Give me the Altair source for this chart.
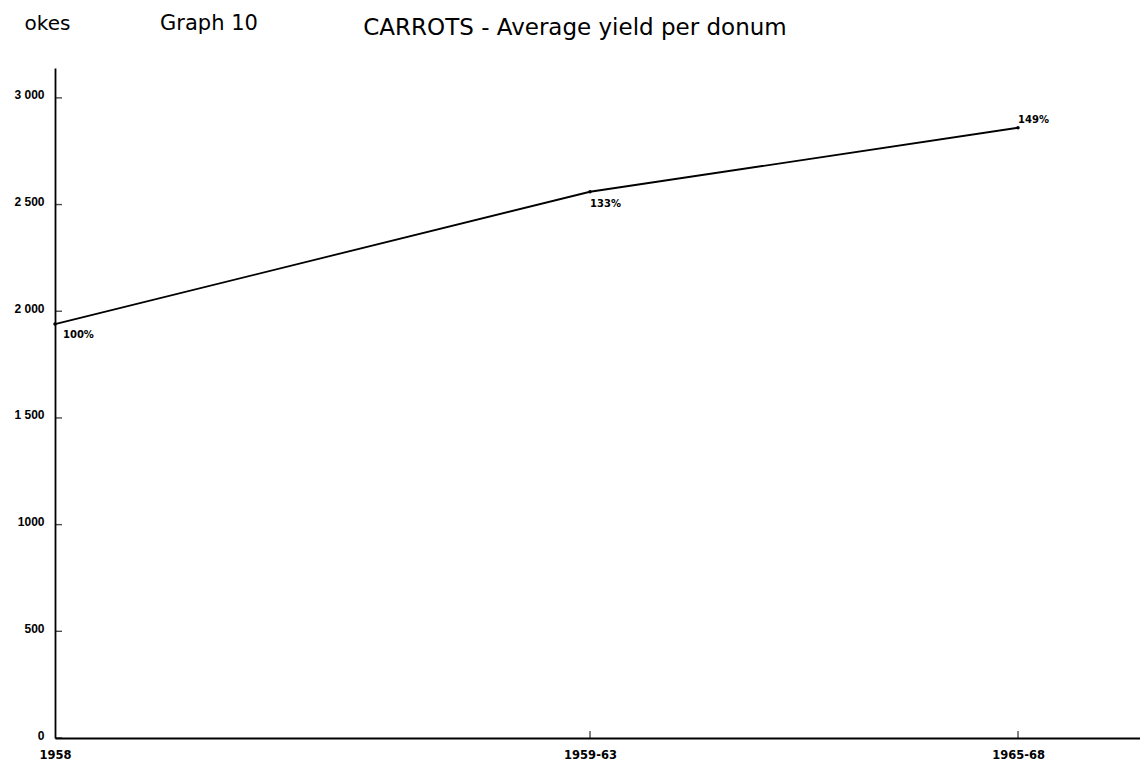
import altair as alt
import pandas as pd

# data
periods = ["1958", "1959-63", "1965-68"]
period_pos = [0, 5, 9]          # spacing along the time axis
yield_okes = [1940, 2560, 2860]
pct_labels = ["100%", "133%", "149%"]

y_tick_values = [0, 500, 1000, 1500, 2000, 2500, 3000]
y_tick_labels = ["0", "500", "1000", "1 500", "2 000", "2 500", "3 000"]

df = pd.DataFrame({"period": periods, "pos": period_pos, "okes": yield_okes, "pct": pct_labels})
yt = pd.DataFrame({"v": y_tick_values, "lab": y_tick_labels})
xt = pd.DataFrame({"pos": period_pos[1:]})

W, H = 1085, 670
FONT = "DejaVu Sans"

ylabel_expr = "{" + ",".join(f"'{v}':'{l}'" for v, l in zip(y_tick_values, y_tick_labels)) + "}[datum.value]"
xlabel_expr = "{" + ",".join(f"'{p}':'{l}'" for p, l in zip(period_pos, periods)) + "}[datum.value]"

xs = alt.Scale(domain=[0, 10.14], nice=False, zero=False)
ys = alt.Scale(domain=[0, 3140], nice=False)

x_axis = alt.Axis(values=period_pos, labelExpr=xlabel_expr, ticks=False, grid=False,
                  domainColor="black", domainWidth=1.8, labelFont=FONT, labelFontSize=11.5,
                  labelFontWeight="bold", labelColor="black", labelPadding=11, title=None,
                  labelFlush=False)
y_axis = alt.Axis(values=y_tick_values, labelExpr=ylabel_expr, ticks=False, grid=False,
                  domainColor="black", domainWidth=1.8, labelFont="Liberation Sans",
                  labelFontSize=12, labelFontWeight="bold", labelColor="black",
                  labelPadding=11, labelOffset=-3,
                  title="okes", titleAngle=0, titleX=-8, titleY=-45, titleAlign="center",
                  titleBaseline="middle", titleFont=FONT, titleFontSize=20,
                  titleFontWeight="normal", titleColor="black")

base = alt.Chart(df)

line = base.mark_line(color="black", strokeWidth=1.8).encode(
    x=alt.X("pos:Q", scale=xs, axis=x_axis),
    y=alt.Y("okes:Q", scale=ys, axis=y_axis),
)
pts = base.mark_point(filled=True, color="black", size=12, opacity=1).encode(
    x=alt.X("pos:Q", scale=xs), y=alt.Y("okes:Q", scale=ys))

def pct_layer(i, dx, dy, align):
    return base.transform_filter(alt.datum.period == periods[i]).mark_text(
        font=FONT, fontSize=10, fontWeight="bold", color="black", align=align,
        baseline="middle", dx=dx, dy=dy).encode(
        x=alt.X("pos:Q", scale=xs), y=alt.Y("okes:Q", scale=ys), text="pct:N")

ytick_rules = alt.Chart(yt).mark_tick(color="black", thickness=1.4, size=7,
                                      orient="horizontal", xOffset=3.5).encode(
    y=alt.Y("v:Q", scale=ys), x=alt.value(0))
xtick_rules = alt.Chart(xt).mark_tick(color="black", thickness=1.4, size=7,
                                      orient="vertical", yOffset=-3.5).encode(
    x=alt.X("pos:Q", scale=xs), y=alt.value(H))

graph_no = alt.Chart(pd.DataFrame({"t": ["Graph 10"]})).mark_text(
    font=FONT, fontSize=21, color="black", align="center", baseline="middle").encode(
    x=alt.value(154), y=alt.value(-44), text="t:N")
title_txt = alt.Chart(pd.DataFrame({"t": ["CARROTS - Average yield per donum"]})).mark_text(
    font=FONT, fontSize=23, color="black", align="center", baseline="middle").encode(
    x=alt.value(520), y=alt.value(-40), text="t:N")

chart = alt.layer(
    line, pts, ytick_rules, xtick_rules,
    pct_layer(0, 8, 11, "left"), pct_layer(1, 0, 12, "left"), pct_layer(2, 0, -8, "left"),
    graph_no, title_txt,
).properties(
    width=W, height=H,
    autosize=alt.AutoSizeParams(type="none"),
    padding={"left": 47, "top": 60, "right": 0, "bottom": 22},
).configure_view(strokeWidth=0, fill="transparent").configure_axis(grid=False)

chart.save("out.html", embed_options={"renderer": "svg", "actions": False})
